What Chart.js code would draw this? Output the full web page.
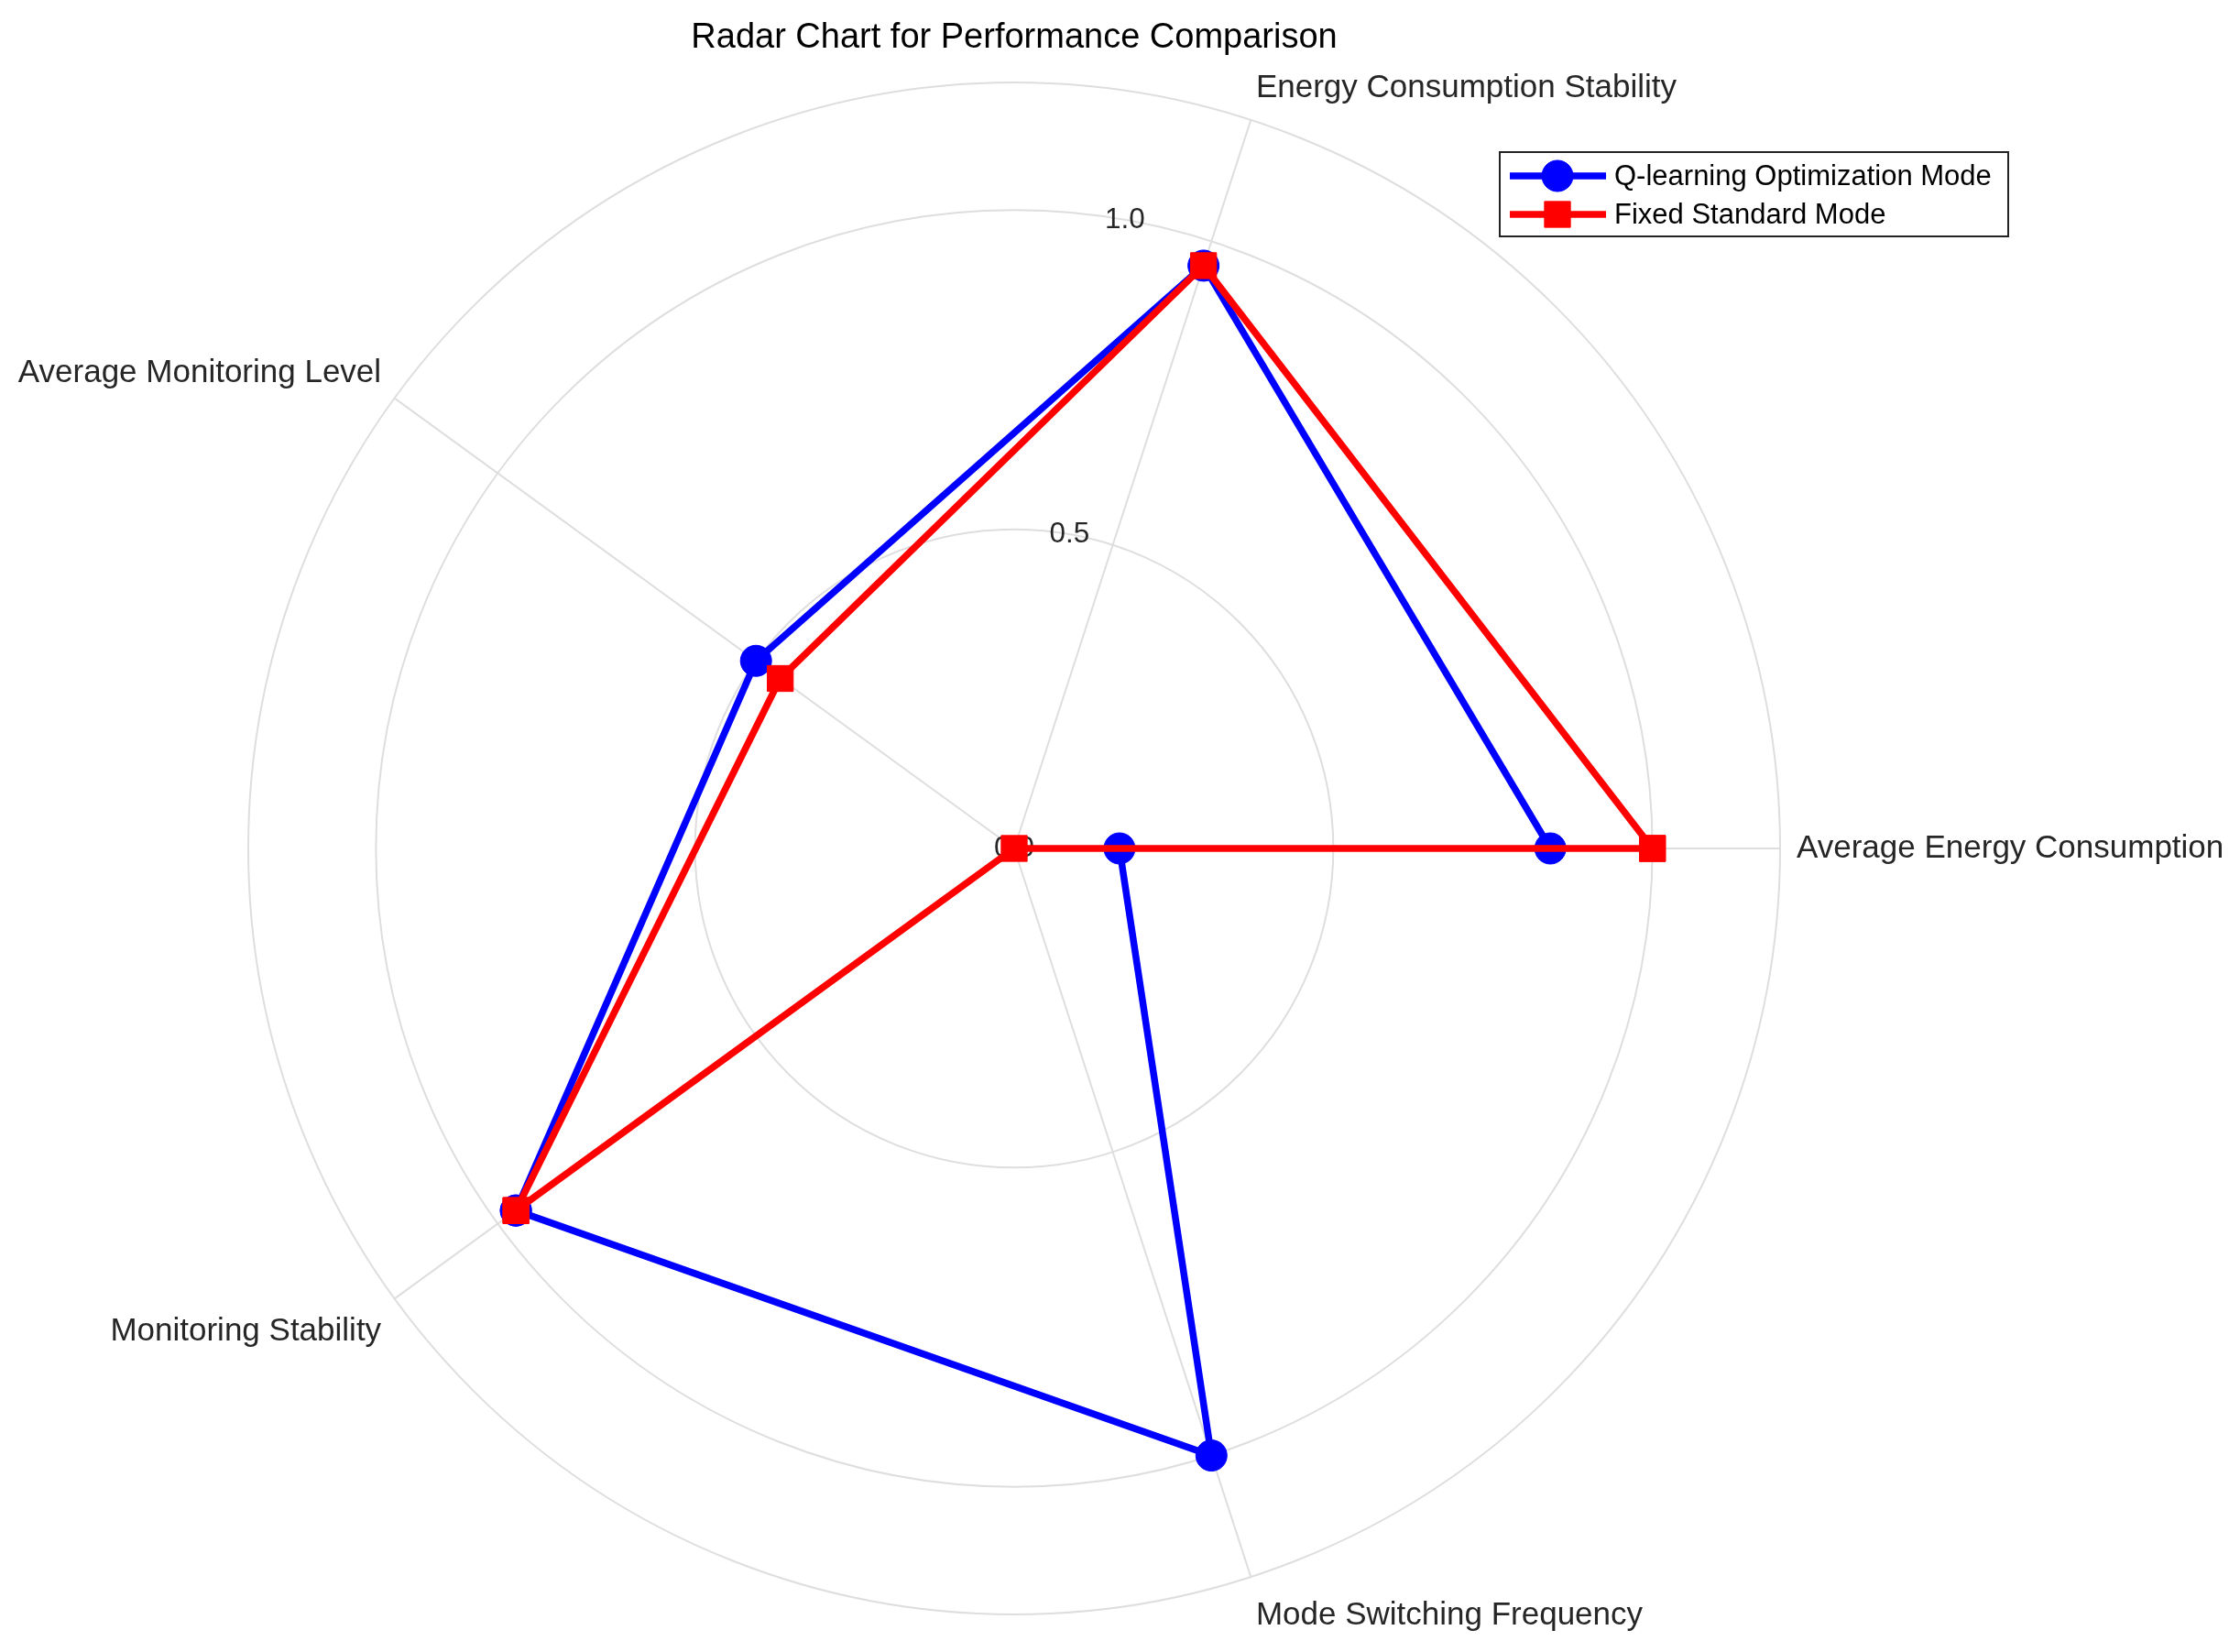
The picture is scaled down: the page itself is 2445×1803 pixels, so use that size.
<!DOCTYPE html>
<html lang="en">
<head>
<meta charset="UTF-8">
<title>Radar Chart for Performance Comparison</title>
<script src="https://cdn.jsdelivr.net/npm/chart.js@4.4.1/dist/chart.umd.min.js"></script>
<style>
    * { margin: 0; padding: 0; box-sizing: border-box; }
    body { background: #fff; width: 2445px; height: 1803px; overflow: hidden; }
    #wrap { width: 2445px; height: 1803px; }
</style>
</head>
<body>
<div id="wrap"><canvas id="radar" width="2445" height="1803"></canvas></div>
<script>
// metrics, in the order they go round the plot (counter-clockwise from the right)
const categories = [
    'Average Energy Consumption',
    'Energy Consumption Stability',
    'Average Monitoring Level',
    'Monitoring Stability',
    'Mode Switching Frequency'
];
const qLearning = [0.84, 0.96, 0.50, 0.965, 1.0];
const qLearningClose = 0.165;   // last point of the trace, back on the first axis
const fixedMode = [1.0, 0.96, 0.453, 0.965, 0.0];
const fixedModeClose = 1.0;
const tickValues = [0, 0.5, 1.0];
const seriesNames = ['Q-learning Optimization Mode', 'Fixed Standard Mode'];

// Chart.js goes clockwise from the top, so reorder the axes
const axisOrder = [1, 0, 4, 3, 2];
const labels = axisOrder.map(i => categories[i]);
const FONT = "'Liberation Sans', Arial, sans-serif";

// split a trace into two open paths so the closing edge ends at the close value
function trace(values, closeValue) {
    const v = axisOrder.map(i => values[i]);
    const main = [v[0], v[1], null, v[3], v[4]];
    const tail = [null, closeValue, v[2], v[3], null];
    return [main, tail];
}

function makeSets(name, values, closeValue, color, style, radius, order) {
    const [main, tail] = trace(values, closeValue);
    const base = {
        borderColor: color,
        backgroundColor: color,
        pointBackgroundColor: color,
        pointBorderColor: color,
        pointBorderWidth: 1,
        pointStyle: style,
        pointRadius: radius,
        borderWidth: 7.5,
        fill: false,
        spanGaps: false,
        order: order
    };
    return [
        Object.assign({ label: name, data: main }, base),
        Object.assign({ label: name + ' (end)', data: tail }, base)
    ];
}

const datasets = [].concat(
    makeSets(seriesNames[0], qLearning, qLearningClose, '#0000ff', 'circle', 17, 1),
    makeSets(seriesNames[1], fixedMode, fixedModeClose, '#ff0000', 'rect', 20, 0)
);

const decor = {
    id: 'decor',
    beforeDatasetsDraw(chart) {
        // radial tick labels sit under the data
        const r = chart.scales.r;
        const ctx = chart.ctx;
        const a = 80 * Math.PI / 180;
        ctx.save();
        ctx.font = '31.5px ' + FONT;
        ctx.fillStyle = '#262626';
        ctx.textAlign = 'center';
        ctx.textBaseline = 'middle';
        tickValues.forEach(v => {
            const d = r.getDistanceFromCenterForValue(v);
            ctx.fillText(v.toFixed(1), r.xCenter + d * Math.cos(a), r.yCenter - d * Math.sin(a));
        });
        ctx.restore();
    },
    afterDraw(chart) {
        const r = chart.scales.r;
        const ctx = chart.ctx;
        ctx.save();

        // axis labels
        ctx.font = '35px ' + FONT;
        ctx.fillStyle = '#262626';
        ctx.textBaseline = 'middle';
        labels.forEach((lab, i) => {
            const p = r.getPointPosition(i, r.drawingArea + 18);
            const dx = p.x - r.xCenter;
            const dy = p.y - r.yCenter;
            ctx.textAlign = dx > 5 ? 'left' : (dx < -5 ? 'right' : 'center');
            let push = 0;
            if (dy < -5) push = -17;
            if (dy > 5) push = 25;
            ctx.fillText(lab, p.x, p.y + push);
        });

        // title
        ctx.font = '38px ' + FONT;
        ctx.fillStyle = '#000';
        ctx.textAlign = 'center';
        ctx.fillText('Radar Chart for Performance Comparison', r.xCenter, 42);

        // legend
        const bx = 1637, by = 166, bw = 555, bh = 92;
        ctx.fillStyle = '#fff';
        ctx.fillRect(bx, by, bw, bh);
        ctx.strokeStyle = '#222';
        ctx.lineWidth = 2;
        ctx.strokeRect(bx, by, bw, bh);
        const rows = [chart.data.datasets[0], chart.data.datasets[2]];
        rows.forEach((ds, k) => {
            const y = by + 26 + k * 42;
            ctx.strokeStyle = ds.borderColor;
            ctx.lineWidth = ds.borderWidth;
            ctx.beginPath();
            ctx.moveTo(bx + 11, y);
            ctx.lineTo(bx + 116, y);
            ctx.stroke();
            ctx.fillStyle = ds.pointBackgroundColor;
            ctx.strokeStyle = ds.pointBorderColor;
            ctx.lineWidth = ds.pointBorderWidth;
            Chart.helpers.drawPoint(ctx, {
                pointStyle: ds.pointStyle, radius: ds.pointRadius, rotation: 0, borderWidth: 1
            }, bx + 63, y);
            ctx.fillStyle = '#000';
            ctx.font = '31px ' + FONT;
            ctx.textAlign = 'left';
            ctx.fillText(seriesNames[k], bx + 125, y + 1);
        });
        ctx.restore();
    }
};

new Chart(document.getElementById('radar'), {
    type: 'radar',
    data: { labels: labels, datasets: datasets },
    options: {
        responsive: false,
        animation: false,
        devicePixelRatio: 1,
        layout: { padding: { left: 271, top: 90, right: 501, bottom: 40 } },
        elements: { line: { tension: 0 } },
        plugins: {
            legend: { display: false },
            title: { display: false },
            tooltip: { enabled: false }
        },
        scales: {
            r: {
                min: 0,
                max: 1.2,
                startAngle: 18,
                ticks: { display: false, stepSize: 0.5 },
                grid: { circular: true, color: '#dedede', lineWidth: 2 },
                angleLines: { color: '#dedede', lineWidth: 2 },
                pointLabels: { display: false }
            }
        }
    },
    plugins: [decor]
});
</script>
</body>
</html>
